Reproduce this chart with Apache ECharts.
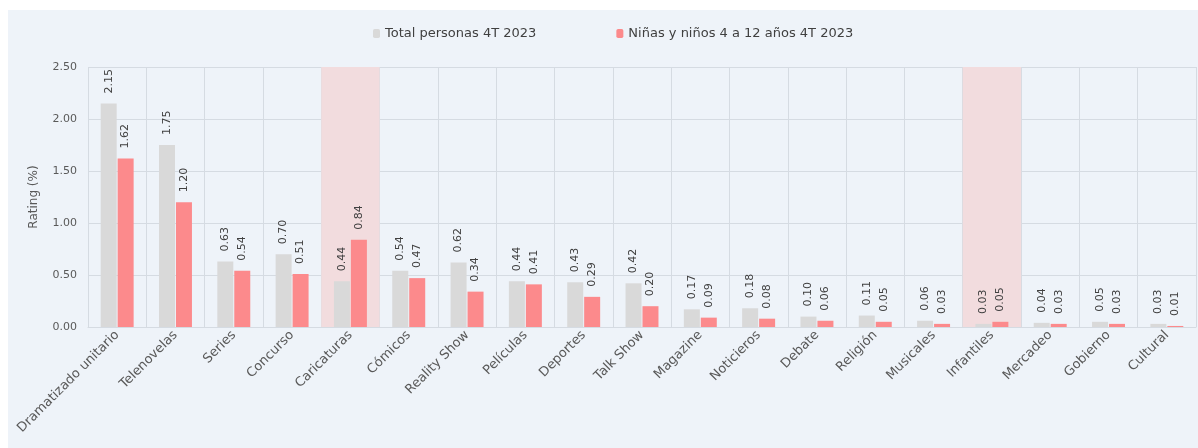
<!DOCTYPE html>
<html>
<head>
<meta charset="utf-8">
<script src="https://cdn.jsdelivr.net/npm/echarts@6/dist/echarts.min.js"></script>
<style>html,body{margin:0;padding:0;background:#fff}#c{width:1198px;height:448px}</style>
</head>
<body>
<div id="c"></div>
<script>
const categories = ['Dramatizado unitario','Telenovelas','Series','Concurso','Caricaturas','Cómicos','Reality Show','Películas','Deportes','Talk Show','Magazine','Noticieros','Debate','Religión','Musicales','Infantiles','Mercadeo','Gobierno','Cultural'];
const totalPersonas = [2.15,1.75,0.63,0.70,0.44,0.54,0.62,0.44,0.43,0.42,0.17,0.18,0.10,0.11,0.06,0.03,0.04,0.05,0.03];
const ninos = [1.62,1.20,0.54,0.51,0.84,0.47,0.34,0.41,0.29,0.20,0.09,0.08,0.06,0.05,0.03,0.05,0.03,0.03,0.01];
const highlight = [null,null,null,null,2.5,null,null,null,null,null,null,null,null,null,null,2.5,null,null,null];
const seriesNames = ['Total personas 4T 2023','Niñas y niños 4 a 12 años 4T 2023'];
const yTicks = [0,0.5,1,1.5,2,2.5];

const FONT = 'DejaVu Sans';
const chart = echarts.init(document.getElementById('c'));
const lbl = {
  show: true, position: 'top', rotate: 90, align: 'left', verticalAlign: 'middle',
  distance: 10, fontSize: 11, color: '#404040', fontFamily: FONT,
  formatter: p => p.value.toFixed(2)
};
chart.setOption({
  backgroundColor: '#ffffff',
  textStyle: { fontFamily: FONT },
  graphic: [{ type: 'rect', z: -10, shape: { x: 8, y: 10, width: 1190, height: 438 }, style: { fill: '#eef3f9' } }],
  legend: {
    data: seriesNames, top: 22, left: 368, itemWidth: 7, itemHeight: 9, itemGap: 80,
    textStyle: { fontSize: 13, color: '#404040', fontFamily: FONT }
  },
  grid: { left: 88, right: 2, top: 67, bottom: 121 },
  xAxis: [{
    type: 'category', data: categories,
    axisLine: { lineStyle: { color: '#d5dbe2' } },
    axisTick: { show: false },
    splitLine: { show: true, lineStyle: { color: '#d5dbe2' } },
    axisLabel: { rotate: 45, fontSize: 13, color: '#595959', interval: 0, margin: 6, fontFamily: FONT }
  }, {
    type: 'category', data: categories, show: false
  }],
  yAxis: {
    type: 'value', min: 0, max: 2.5, interval: 0.5,
    name: 'Rating (%)', nameLocation: 'middle', nameGap: 48,
    nameTextStyle: { fontSize: 12, color: '#595959', fontFamily: FONT },
    axisLine: { show: false }, axisTick: { show: false },
    splitLine: { lineStyle: { color: '#d5dbe2' } },
    axisLabel: { fontSize: 11, color: '#595959', margin: 11, formatter: v => v.toFixed(2), fontFamily: FONT }
  },
  series: [{
    type: 'bar', xAxisIndex: 1, data: highlight, barWidth: '100%', silent: true,
    itemStyle: { color: '#f2dcde' }, z: 1, legendHoverLink: false
  }, {
    name: seriesNames[0], type: 'bar', data: totalPersonas, barWidth: 16, barGap: '6%',
    itemStyle: { color: '#d9d9d9' }, label: lbl, z: 3
  }, {
    name: seriesNames[1], type: 'bar', data: ninos, barWidth: 16, barGap: '6%',
    itemStyle: { color: '#fc8a8c' }, label: lbl, z: 3
  }]
});
</script>
</body>
</html>
